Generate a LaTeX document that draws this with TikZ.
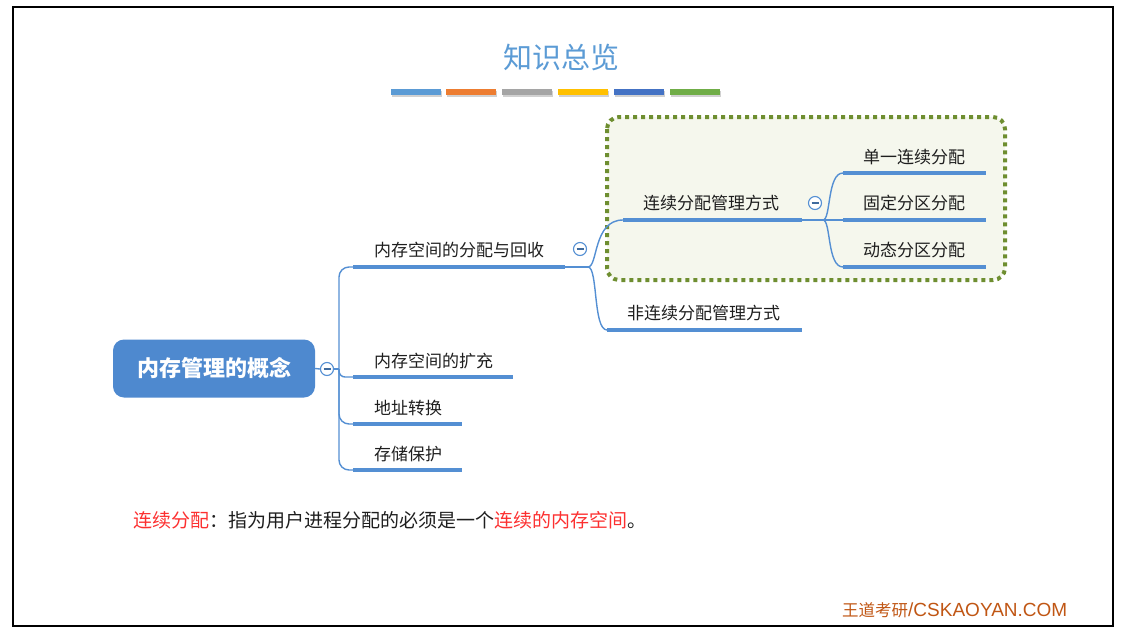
\documentclass[tikz,border=0pt]{standalone}
\usepackage{fontspec}
\setmainfont{Noto Sans CJK SC}
\newfontfamily\latinf{Liberation Sans}
\definecolor{linec}{RGB}{84,143,211}
\definecolor{rootc}{RGB}{78,137,207}
\definecolor{titlec}{RGB}{91,155,213}
\definecolor{boxc}{RGB}{110,142,48}
\definecolor{boxfill}{RGB}{245,247,237}
\definecolor{redc}{RGB}{252,48,48}
\definecolor{txt}{RGB}{30,30,30}
\definecolor{wmc}{RGB}{192,86,20}
\definecolor{bar1}{RGB}{91,155,213}
\definecolor{bar2}{RGB}{237,125,49}
\definecolor{bar3}{RGB}{165,165,165}
\definecolor{bar4}{RGB}{255,192,0}
\definecolor{bar5}{RGB}{68,114,196}
\definecolor{bar6}{RGB}{112,173,71}
\begin{document}
\begin{tikzpicture}[x=1pt,y=-1pt,
  lbl/.style={anchor=west, inner sep=0, text=txt, font=\fontsize{17}{19}\selectfont},
  conn/.style={draw=linec, line width=1.4pt},
  uline/.style={draw=linec, line width=3.6pt},
  fold/.style={circle, draw=linec, line width=1.1pt, fill=white, minimum size=13pt, inner sep=0,
    path picture={\draw[linec!75!black, line width=1.1pt] ([xshift=-3.5pt]path picture bounding box.center) -- ([xshift=3.5pt]path picture bounding box.center);}},
]
\useasboundingbox (0,0) rectangle (1128,640);
\draw[line width=2.2pt] (13,7) rectangle (1113,626);

% title
\node[font=\fontsize{29}{32}\selectfont, text=titlec, inner sep=0] (title) at (561,57) {知识总览};
\foreach \i/\x in {1/391,2/446,3/502,4/558,5/614,6/670}{
  \fill[black!18] (\x+1,91) rectangle (\x+51,97);
  \fill[bar\i] (\x,89) rectangle (\x+50,95);
}

% dotted group box
\draw[boxc, line width=4pt, dash pattern=on 4pt off 4pt, fill=boxfill, rounded corners=12pt] (607,117) rectangle (1005,280);

% root
\node[rounded corners=11pt, fill=rootc, minimum width=202pt, minimum height=58pt, text=white,
  font=\bfseries\fontsize{22}{25}\selectfont, inner sep=0] (root) at (214,368.5) {内存管理的概念};
\node[fold] (c0) at (327,369) {};
\coordinate (b0) at (339,369);
\draw[conn] (root.east) -- (c0.west);
\draw[conn] (c0.east) -- (b0);

% level 1
\coordinate (u1s) at (353,267); \coordinate (u1e) at (565,267);
\coordinate (u2s) at (353,377); \coordinate (u2e) at (513,377);
\coordinate (u3s) at (353,424); \coordinate (u3e) at (462,424);
\coordinate (u4s) at (353,470); \coordinate (u4e) at (462,470);
\draw[conn, rounded corners=10pt] (b0) -- (339,267) -- (u1s);
\draw[conn, rounded corners=6pt] (b0) -- (339,377) -- (u2s);
\draw[conn, rounded corners=10pt] (b0) -- (339,424) -- (u3s);
\draw[conn, rounded corners=10pt] (b0) -- (339,470) -- (u4s);
\draw[uline] (u1s) -- (u1e);
\draw[uline] (u2s) -- (u2e);
\draw[uline] (u3s) -- (u3e);
\draw[uline] (u4s) -- (u4e);
\node[lbl] (t1) at (374,250) {内存空间的分配与回收};
\node[lbl] (t2) at (374,361) {内存空间的扩充};
\node[lbl] (t3) at (374,408) {地址转换};
\node[lbl] (t4) at (374,454) {存储保护};

% level 2
\node[fold] (c1) at (580,249) {};
\coordinate (b1) at (588,267);
\coordinate (v1s) at (623,220); \coordinate (v1e) at (802,220);
\coordinate (v2s) at (607,330); \coordinate (v2e) at (802,330);
\draw[conn] (u1e) -- (b1);
\draw[conn] (b1) .. controls (598,267) and (593,220) .. (v1s);
\draw[conn] (b1) .. controls (598,267) and (593,330) .. (v2s);
\draw[uline] (v1s) -- (v1e);
\draw[uline] (v2s) -- (v2e);
\node[lbl] (s1) at (643,203) {连续分配管理方式};
\node[lbl] (s2) at (627,313) {非连续分配管理方式};

% level 3
\node[fold] (c2) at (815,203) {};
\coordinate (b2) at (823,220);
\coordinate (w1s) at (843,173); \coordinate (w1e) at (986,173);
\coordinate (w2s) at (843,220); \coordinate (w2e) at (986,220);
\coordinate (w3s) at (843,267); \coordinate (w3e) at (986,267);
\draw[conn] (v1e) -- (b2);
\draw[conn] (b2) .. controls (831,220) and (827,173) .. (w1s);
\draw[conn] (b2) -- (w2s);
\draw[conn] (b2) .. controls (831,220) and (827,267) .. (w3s);
\draw[uline] (w1s) -- (w1e);
\draw[uline] (w2s) -- (w2e);
\draw[uline] (w3s) -- (w3e);
\node[lbl] (r1) at (863,157) {单一连续分配};
\node[lbl] (r2) at (863,203) {固定分区分配};
\node[lbl] (r3) at (863,250) {动态分区分配};

% note
\node[anchor=west, inner sep=0, text=txt, font=\fontsize{19}{22}\selectfont] (note) at (133,520)
  {\textcolor{redc}{连续分配}：指为用户进程分配的必须是一个\textcolor{redc}{连续的内存空间}。};

% watermark
\node[anchor=west, inner sep=0, text=wmc] (wm) at (842,610)
  {\fontsize{16.5}{18}\selectfont 王道考研\latinf\fontsize{19}{21}\selectfont/CSKAOYAN.COM};
\end{tikzpicture}
\end{document}
